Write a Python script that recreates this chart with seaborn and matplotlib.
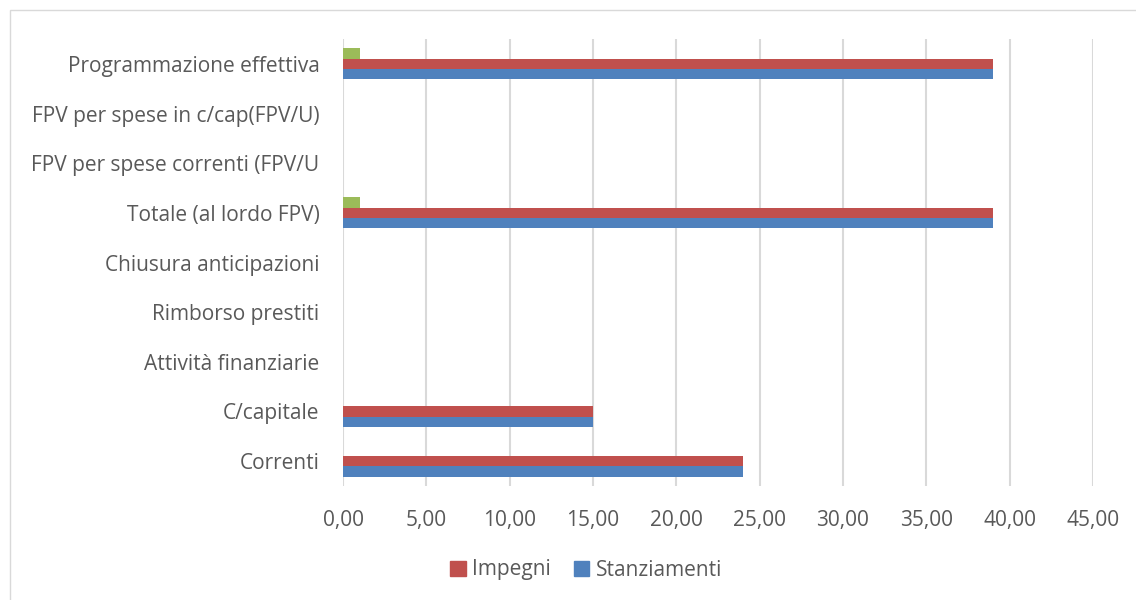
import pandas as pd
import matplotlib.pyplot as plt
import seaborn as sns
from matplotlib.ticker import FuncFormatter
from matplotlib.patches import Patch, Rectangle

# dati (dall'alto verso il basso)
categorie = ['Programmazione effettiva', 'FPV per spese in c/cap(FPV/U)',
             'FPV per spese correnti (FPV/U', 'Totale (al lordo FPV)',
             'Chiusura anticipazioni', 'Rimborso prestiti',
             'Attività finanziarie', 'C/capitale', 'Correnti']
altro = [1.0, 0, 0, 1.0, 0, 0, 0, 0, 0]
impegni = [39.0, 0, 0, 39.0, 0, 0, 0, 15.0, 24.0]
stanziamenti = [39.0, 0, 0, 39.0, 0, 0, 0, 15.0, 24.0]

serie = ['Altro', 'Impegni', 'Stanziamenti']
colori = ['#9BBB59', '#C0504D', '#4F81BD']

df = pd.DataFrame({'cat': categorie, 'Altro': altro,
                   'Impegni': impegni, 'Stanziamenti': stanziamenti})
df = df.melt(id_vars='cat', var_name='serie', value_name='valore')

sns.set_style('white')
plt.rcParams['font.family'] = ['Open Sans', 'DejaVu Sans']

fig = plt.figure(figsize=(11.36, 6), dpi=100)
ax = fig.add_axes([0.302, 0.19, 0.66, 0.745])

sns.barplot(data=df, y='cat', x='valore', hue='serie', order=categorie,
            hue_order=serie, palette=colori, orient='h', width=0.62,
            saturation=1, ax=ax, legend=False, edgecolor='none')

ax.set_xlim(0, 45)
ax.set_xticks(range(0, 46, 5))
ax.xaxis.set_major_formatter(FuncFormatter(lambda v, p: f'{v:.2f}'.replace('.', ',')))
ax.grid(axis='x', color='#d9d9d9', linewidth=1.5)
ax.set_axisbelow(True)
for s in ax.spines.values():
    s.set_visible(False)
ax.set_xlabel('')
ax.set_ylabel('')
ax.tick_params(axis='both', length=0, labelsize=15, colors='#595959')
ax.tick_params(axis='y', pad=17)
ax.tick_params(axis='x', pad=17)

# legenda solo per le due serie principali
handles = [Patch(color=colori[1]), Patch(color=colori[2])]
fig.legend(handles, ['Impegni', 'Stanziamenti'], loc='center', bbox_to_anchor=(0.516, 0.05),
           ncol=2, frameon=False, fontsize=15, handlelength=0.75, handleheight=0.75,
           columnspacing=1.1, handletextpad=0.3, labelcolor='#595959')

fig.patches.append(Rectangle((0.009, -0.01), 1.0, 0.993, transform=fig.transFigure,
                             fill=False, edgecolor='#d9d9d9', linewidth=1))

fig.savefig('out.png', dpi=100)
